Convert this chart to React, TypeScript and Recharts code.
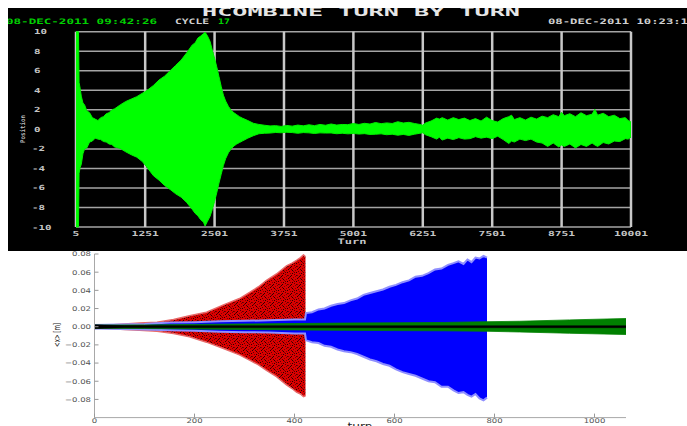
import { ComposedChart, Area, XAxis, YAxis, CartesianGrid } from "recharts";

// HCOMBINE scope trace: min/max envelope of the position signal per turn
const scopeTurns = [
  5, 50, 60, 80, 100, 130, 160, 200, 250, 300, 350, 400, 450, 500, 550, 600, 650, 700, 800, 900,
  1000, 1100, 1200, 1300, 1400, 1500, 1600, 1700, 1800, 1900, 2000, 2100, 2150, 2200, 2250, 2300, 2330,
  2370, 2420, 2460, 2500, 2540, 2580, 2620, 2660, 2700, 2750, 2800, 2850, 2900, 2950, 3000, 3100, 3200,
  3300, 3400, 3500, 3600, 3700, 3800, 3900, 4000, 4100, 4200, 4300, 4400, 4500, 4600, 4700, 4800, 4900,
  5000, 5100, 5200, 5300, 5400, 5500, 5600, 5700, 5800, 5900, 6000, 6100, 6200, 6250, 6300, 6400, 6500,
  6550, 6600, 6700, 6800, 6900, 7000, 7100, 7200, 7300, 7400, 7500, 7600, 7700, 7800, 7850, 7900, 8000,
  8100, 8200, 8300, 8400, 8500, 8600, 8700, 8750, 8800, 8900, 9000, 9100, 9200, 9300, 9350, 9400, 9500,
  9600, 9700, 9800, 9900, 9950, 10001,
];
const scopeHigh = [
  10, 10, 4.8, 4.2, 3.4, 2.7, 2.5, 1.9, 1.7, 1.2, 1.05, 0.9, 1.2, 1.3, 1.6, 1.7, 2.0, 2.1, 2.5, 2.85,
  3.1, 3.35, 3.7, 4.05, 4.5, 5.05, 5.45, 6.0, 6.55, 7.1, 7.85, 8.65, 8.85, 9.35, 9.55, 9.8, 9.95,
  9.6, 9.0, 8.1, 7.3, 6.4, 5.4, 4.4, 3.5, 2.9, 2.35, 1.95, 1.7, 1.5, 1.3, 1.15, 0.9, 0.62,
  0.5, 0.42, 0.35, 0.38, 0.3, 0.4, 0.33, 0.44, 0.36, 0.47, 0.38, 0.5, 0.42, 0.55, 0.44, 0.5, 0.48,
  0.6, 0.5, 0.62, 0.54, 0.7, 0.58, 0.66, 0.6, 0.78, 0.65, 0.72, 0.6, 0.5, 0.42, 0.65, 0.85, 1.15,
  1.05, 1.2, 0.95, 1.2, 1.0, 1.15, 0.9, 1.1, 0.85, 1.25, 0.9, 0.75, 1.1, 1.3, 1.45, 1.0, 1.2,
  0.95, 1.25, 1.05, 1.35, 1.2, 1.5, 1.3, 1.75, 1.4, 1.6, 1.3, 1.7, 1.4, 1.55, 2.05, 1.45, 1.65,
  1.3, 1.45, 1.1, 1.2, 0.9, 0.75,
];
const scopeLow = [
  -10, -10, -4.5, -3.9, -3.6, -2.5, -2.0, -1.9, -1.3, -1.2, -0.9, -1.0, -1.05, -1.25, -1.3, -1.5, -1.55, -1.8, -1.95, -2.3,
  -2.6, -2.85, -3.3, -4.0, -4.75, -5.2, -5.75, -6.15, -6.6, -6.95, -7.5, -8.2, -8.6, -8.85, -9.25, -9.5, -9.9,
  -9.45, -8.9, -8.2, -7.4, -6.5, -5.5, -4.6, -3.7, -3.0, -2.4, -2.0, -1.7, -1.5, -1.35, -1.2, -0.9, -0.65,
  -0.45, -0.4, -0.38, -0.32, -0.35, -0.3, -0.33, -0.4, -0.33, -0.36, -0.42, -0.36, -0.38, -0.37, -0.45, -0.4, -0.46,
  -0.42, -0.48, -0.44, -0.52, -0.5, -0.46, -0.55, -0.5, -0.6, -0.52, -0.62, -0.5, -0.4, -0.35, -0.55, -0.75, -1.0,
  -0.8, -1.1, -0.9, -1.05, -0.85, -1.0, -0.95, -0.75, -0.9, -0.8, -0.95, -0.7, -1.05, -1.45, -1.2, -1.3, -1.0,
  -1.15, -1.0, -1.3, -1.4, -1.75, -1.4, -1.8, -1.6, -1.75, -1.5, -1.9, -1.55, -1.75, -1.4, -1.6, -1.75, -1.35,
  -1.5, -1.2, -1.25, -0.95, -1.0, -0.8,
];
const scopeTurnTicks = [5, 1251, 2501, 3751, 5001, 6251, 7501, 8751, 10001];
const scopePosTicks = [10, 8, 6, 4, 2, 0, -2, -4, -6, -8, -10];

// tracking runs: envelope of <x> [m] per turn
const redTurns = [0, 30, 60, 90, 125, 158, 190, 224, 258, 290, 311, 328, 344, 364, 384, 395, 404, 412, 418, 422];
const redHigh = [0.0015, 0.002, 0.003, 0.004, 0.005, 0.008, 0.012, 0.016, 0.024, 0.031, 0.038, 0.044, 0.051, 0.058, 0.067, 0.07, 0.073, 0.076, 0.079, 0.077];
const redLow = [-0.0015, -0.002, -0.003, -0.004, -0.005, -0.0075, -0.011, -0.017, -0.024, -0.031, -0.037, -0.042, -0.048, -0.055, -0.064, -0.068, -0.072, -0.074, -0.077, -0.076];

const blueTurns = [
  0, 50, 100, 150, 200, 250, 300, 350, 400, 421, 423, 435, 448, 460, 473, 486, 499, 512, 525, 538, 551,
  564, 577, 590, 603, 616, 629, 642, 655, 668, 681, 694, 707, 718, 728, 738, 746, 754, 762, 770, 778, 785,
];
const blueHigh = [
  0.002, 0.0025, 0.003, 0.0045, 0.005, 0.006, 0.0065, 0.007, 0.008, 0.008, 0.015, 0.016, 0.019, 0.02, 0.023, 0.025, 0.026, 0.029, 0.031, 0.035, 0.037,
  0.039, 0.041, 0.044, 0.046, 0.049, 0.051, 0.055, 0.056, 0.059, 0.063, 0.064, 0.068, 0.07, 0.072, 0.069, 0.074, 0.071, 0.076, 0.075, 0.078, 0.076,
];
const blueLow = [
  -0.002, -0.0025, -0.003, -0.004, -0.0045, -0.0055, -0.006, -0.0065, -0.0075, -0.0075, -0.015, -0.017, -0.018, -0.021, -0.022, -0.025, -0.027, -0.028, -0.03, -0.033, -0.036,
  -0.038, -0.041, -0.043, -0.047, -0.05, -0.052, -0.054, -0.057, -0.06, -0.061, -0.066, -0.066, -0.07, -0.073, -0.072, -0.075, -0.077, -0.074, -0.079, -0.081, -0.078,
];

const greenTurns = [0, 100, 200, 300, 400, 500, 600, 700, 785, 850, 950, 1063];
const greenHigh = [0.0018, 0.002, 0.0025, 0.003, 0.0035, 0.004, 0.0043, 0.0047, 0.0055, 0.006, 0.0075, 0.009];
const greenLow = [-0.0018, -0.002, -0.0025, -0.003, -0.0035, -0.004, -0.0043, -0.0045, -0.005, -0.0058, -0.0072, -0.0086];

const blackTurns = [0, 20, 60, 1063];
const blackHigh = [0.0022, 0.0018, 0.0012, 0.0011];
const blackLow = [-0.0022, -0.0018, -0.0012, -0.0011];

const simTurnTicks = [0, 200, 400, 600, 800, 1000];
const simXTicks = [-0.08, -0.06, -0.04, -0.02, 0, 0.02, 0.04, 0.06, 0.08];

const scopeData = scopeTurns.map((turn, i) => ({ turn, pos: [scopeLow[i], scopeHigh[i]] }));
const band = (turns: number[], low: number[], high: number[]) =>
  turns.map((turn, i) => ({ turn, x: [low[i], high[i]] }));

const redData = band(redTurns, redLow, redHigh);
const blueData = band(blueTurns, blueLow, blueHigh);
const greenData = band(greenTurns, greenLow, greenHigh);
const blackData = band(blackTurns, blackLow, blackHigh);

const mono = "'DejaVu Sans Mono', monospace";
const sans = "'DejaVu Sans', sans-serif";

function ScopeYTick({ x, y, payload }: any) {
  const label = String(payload.value);
  return (
    <text x={x - 42 - (payload.value < 0 ? 2 : 0)} y={y + 2.5} textLength={label.length * 6.5}
      lengthAdjust="spacingAndGlyphs" fill="#c4c4c4" fontFamily={mono} fontWeight={700} fontSize={7}>
      {label}
    </text>
  );
}

function ScopeXTick({ x, y, payload }: any) {
  const label = String(payload.value);
  return (
    <text x={x} y={y + 8.5} textAnchor="middle" textLength={label.length * 6.8}
      lengthAdjust="spacingAndGlyphs" fill="#c4c4c4" fontFamily={mono} fontWeight={700} fontSize={7}>
      {label}
    </text>
  );
}

const simLabel = (v: number, digits: number) => (v < 0 ? "\u2212" : "") + Math.abs(v).toFixed(digits);
const labelWidth = (s: string) =>
  s.split("").reduce((w, c) => w + (c === "." ? 2.8 : c === "\u2212" ? 7 : 5.4), 0);

function SimLeftTick({ x, y, payload }: any) {
  const label = simLabel(payload.value, 2);
  return (
    <g>
      <line x1={x} x2={x + 4} y1={y} y2={y} stroke="#999" />
      <text x={x - 3.5} y={y + 2.4} textAnchor="end" textLength={labelWidth(label)}
        lengthAdjust="spacingAndGlyphs" fill="#555" fontFamily={sans} fontSize={6.5}>
        {label}
      </text>
    </g>
  );
}

function SimRightTick({ x, y }: any) {
  return <line x1={x} x2={x - 4} y1={y} y2={y} stroke="#999" />;
}

function SimBottomTick({ x, y, payload }: any) {
  const label = simLabel(payload.value, 0);
  return (
    <g>
      <line x1={x} x2={x} y1={y} y2={y - 4} stroke="#999" />
      <text x={x} y={y + 5.6} textAnchor="middle" textLength={labelWidth(label)}
        lengthAdjust="spacingAndGlyphs" fill="#555" fontFamily={sans} fontSize={6.5}>
        {label}
      </text>
    </g>
  );
}

function SimTopTick({ x, y }: any) {
  return <line x1={x} x2={x} y1={y} y2={y + 4} stroke="#999" />;
}

// dark speckles scattered over the red run (9x9 tile)
const speckleDots = [
  [0, 0], [3, 0], [7, 1], [4, 1], [1, 2], [5, 2], [8, 3], [6, 3], [2, 4],
  [4, 4], [6, 5], [0, 6], [3, 6], [8, 6], [7, 7], [2, 7], [1, 8], [5, 8],
];
const speckleShades = ["#2a0000", "#5a0000", "#800000"];

export default function App() {
  return (
    <div style={{ position: "fixed", left: 0, top: 0, width: 687, height: 426, overflow: "hidden", background: "#fff" }}>
      <div style={{ position: "absolute", left: 8, top: 8, width: 679, height: 243, background: "#000" }}>
        <ComposedChart width={679} height={243} data={scopeData} margin={{ top: 23.7, right: 56, bottom: 0, left: 0 }}>
          <CartesianGrid vertical={false} stroke="#a4a4a4" strokeWidth={1.5} />
          <CartesianGrid horizontal={false} stroke="#c8c8c8" strokeWidth={2.5} />
          <XAxis type="number" dataKey="turn" domain={[5, 10001]} ticks={scopeTurnTicks} interval={0}
            axisLine={false} tickLine={false} tickSize={0} tickMargin={0} height={24} tick={<ScopeXTick />} />
          <YAxis type="number" domain={[-10, 10]} ticks={scopePosTicks} interval={0}
            axisLine={false} tickLine={false} tickSize={0} tickMargin={0} width={68} tick={<ScopeYTick />} />
          <Area type="linear" dataKey="pos" fill="#00ff00" fillOpacity={1} stroke="#00f000" strokeWidth={1}
            dot={false} activeDot={false} isAnimationActive={false} />
        </ComposedChart>
      </div>

      <div style={{ position: "absolute", left: 0, top: 251, width: 687, height: 175 }}>
        <ComposedChart width={687} height={175} margin={{ top: 3, right: 61, bottom: 0.4, left: 0 }}>
          <XAxis type="number" dataKey="turn" domain={[0, 1063]} ticks={simTurnTicks} interval={0}
            allowDataOverflow stroke="#a8a8a8" tickLine={false} tickSize={0} tickMargin={0} height={8}
            tick={<SimBottomTick />} />
          <XAxis xAxisId="top" orientation="top" type="number" domain={[0, 1063]} ticks={simTurnTicks} interval={0}
            allowDataOverflow stroke="#a8a8a8" tickLine={false} tickSize={0} tickMargin={0} height={0}
            tick={<SimTopTick />} />
          <YAxis type="number" domain={[-0.1, 0.08]} ticks={simXTicks} interval={0} allowDataOverflow
            stroke="#a8a8a8" tickLine={false} tickSize={0} tickMargin={0} width={94.5} tick={<SimLeftTick />} />
          <YAxis yAxisId="right" orientation="right" type="number" domain={[-0.1, 0.08]} ticks={simXTicks}
            interval={0} allowDataOverflow stroke="#a8a8a8" tickLine={false} tickSize={0} tickMargin={0} width={0}
            tick={<SimRightTick />} />
          <Area data={redData} type="linear" dataKey="x" fill="url(#redSpeckle)" fillOpacity={1}
            stroke="#e86a6a" strokeWidth={1.5} dot={false} activeDot={false} isAnimationActive={false} />
          <Area data={blueData} type="linear" dataKey="x" fill="#0000ff" fillOpacity={1}
            stroke="#8f8fff" strokeWidth={2} dot={false} activeDot={false} isAnimationActive={false} />
          <Area data={greenData} type="linear" dataKey="x" fill="#008000" fillOpacity={1}
            stroke="#008000" strokeWidth={0.8} dot={false} activeDot={false} isAnimationActive={false} />
          <Area data={blackData} type="linear" dataKey="x" fill="#000" fillOpacity={1}
            stroke="#000" strokeWidth={0.5} dot={false} activeDot={false} isAnimationActive={false} />
        </ComposedChart>
      </div>

      <svg width={687} height={426} style={{ position: "absolute", left: 0, top: 0, pointerEvents: "none" }}>
        <defs>
          <pattern id="redSpeckle" width={9} height={9} patternUnits="userSpaceOnUse">
            <rect width={9} height={9} fill="#d90000" />
            {speckleDots.map(([px, py], i) => (
              <rect key={i} x={px} y={py} width={1} height={1} fill={speckleShades[i % 3]} />
            ))}
          </pattern>
          <clipPath id="scopePanel">
            <rect x={8} y={8} width={679} height={243} />
          </clipPath>
        </defs>
        <text x={202} y={16} textLength={318} lengthAdjust="spacingAndGlyphs" fill="#e6e6e6"
          fontFamily={mono} fontWeight={700} fontSize={11.5} clipPath="url(#scopePanel)">HCOMBINE TURN BY TURN</text>
        <text x={6} y={23.5} textLength={151} lengthAdjust="spacingAndGlyphs" fill="#00d000"
          fontFamily={mono} fontWeight={700} fontSize={7.5} clipPath="url(#scopePanel)">08-DEC-2011 09:42:26</text>
        <text x={175} y={23.5} textLength={34} lengthAdjust="spacingAndGlyphs" fill="#d0d0d0"
          fontFamily={mono} fontWeight={700} fontSize={7.5}>CYCLE</text>
        <text x={218} y={23.5} textLength={12} lengthAdjust="spacingAndGlyphs" fill="#00d000"
          fontFamily={mono} fontWeight={700} fontSize={7.5}>17</text>
        <text x={548} y={23.5} textLength={140} lengthAdjust="spacingAndGlyphs" fill="#d0d0d0"
          fontFamily={mono} fontWeight={700} fontSize={7.5}>08-DEC-2011 10:23:1</text>
        <text transform="translate(24.5,129) rotate(-90)" textAnchor="middle" textLength={28}
          lengthAdjust="spacingAndGlyphs" fill="#bdbdbd" fontFamily={mono} fontWeight={700} fontSize={6.5}>Position</text>
        <text x={352} y={244} textAnchor="middle" textLength={29} lengthAdjust="spacingAndGlyphs"
          fill="#c4c4c4" fontFamily={mono} fontWeight={700} fontSize={7.5}>Turn</text>
        <text transform="translate(60,335) rotate(-90)" textAnchor="middle" textLength={24}
          lengthAdjust="spacingAndGlyphs" fill="#222" fontFamily={sans} fontSize={8}>{"<x> [m]"}</text>
        <text x={360} y={430} textAnchor="middle" textLength={25} lengthAdjust="spacingAndGlyphs"
          fill="#222" fontFamily={sans} fontSize={11}>turn</text>
      </svg>
    </div>
  );
}
